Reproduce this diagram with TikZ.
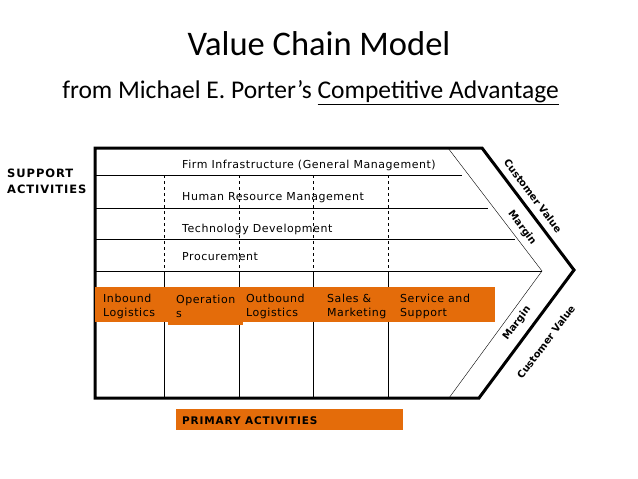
\documentclass[tikz,border=0pt]{standalone}
\usepackage{fontspec}
\setmainfont{Carlito}
\newfontfamily\chartfont[LetterSpace=5]{DejaVu Sans}
\newfontfamily\capsfont[LetterSpace=8]{DejaVu Sans}
\usetikzlibrary{positioning}

\definecolor{boxorange}{RGB}{228,108,10}

\begin{document}
\begin{tikzpicture}[x=1pt,y=-1pt,
    rowlabel/.style={font=\chartfont\fontsize{11}{13}\selectfont,anchor=base west,inner sep=0pt},
    boxlabel/.style={font=\chartfont\fontsize{11}{14}\selectfont,anchor=north west,inner sep=0pt,align=left},
    capslabel/.style={font=\capsfont\bfseries\fontsize{10.5}{16}\selectfont,anchor=base west,inner sep=0pt,align=left},
    sidelabel/.style={font=\fontspec{DejaVu Sans}\bfseries\fontsize{10}{12}\selectfont,inner sep=0pt}]

        \useasboundingbox (0,0) rectangle (638,479);

        % titles
        \node[anchor=base,font=\fontsize{34.5}{40}\selectfont] (title) at (319,55) {Value Chain Model};
        \node[anchor=base,font=\fontsize{25.5}{30}\selectfont] (subtitle) at (310.5,98)
          {from Michael E. Porter's \underline{Competitive Advantage}};

        % support rows
        \draw (95,175) -- (462,175);
        \draw (95,208) -- (488,208);
        \draw (95,239) -- (515,239);
        \draw (95,271) -- (542,271);

        \foreach \xx in {164,239,313,388}
        {
          \draw[dashed] (\xx,175) -- (\xx,271);
          \draw (\xx,271) -- (\xx,398);
        }

        % margin line and outer frame
        \draw (448,148) coordinate (mtop) -- (542,271) coordinate (mtip) -- (449,398) coordinate (mbot);
        \draw[line width=3pt,line join=miter]
          (95,148) -- (482,148) -- (574,270) -- (479,398) -- (95,398) -- cycle;

        \node[rowlabel] (infra) at (182,168) {Firm Infrastructure (General Management)};
        \node[rowlabel] (hrm) at (182,200) {Human Resource Management};
        \node[rowlabel] (tech) at (182,232) {Technology Development};
        \node[rowlabel] (proc) at (182,260) {Procurement};

        \node[capslabel,font=\capsfont\bfseries\fontsize{11.5}{16}\selectfont] (support) at (7,193) {SUPPORT\\ACTIVITIES};

        % primary activities
        \fill[boxorange] (95,287) rectangle (495,322);
        \fill[boxorange] (168,289) rectangle (243,325);

        \node[boxlabel] (inbound) at (103,294) {Inbound\\Logistics};
        \node[boxlabel] (ops) at (176,295) {Operation\\s};
        \node[boxlabel] (outbound) at (246,294) {Outbound\\Logistics};
        \node[boxlabel] (sales) at (327,294) {Sales \&\\Marketing};
        \node[boxlabel] (service) at (400,294) {Service and\\Support};

        \fill[boxorange] (176,409) rectangle (403,430);
        \node[capslabel] (primary) at (182,424) {PRIMARY ACTIVITIES};

        % customer value / margin
        \node[sidelabel,rotate=-53] (cvtop) at (533,196) {Customer Value};
        \node[sidelabel,rotate=-53] (mtoplabel) at (522,228) {Margin};
        \node[sidelabel,rotate=53] (mbotlabel) at (517,323) {Margin};
        \node[sidelabel,rotate=53] (cvbot) at (546,342) {Customer Value};

\end{tikzpicture}
\end{document}
